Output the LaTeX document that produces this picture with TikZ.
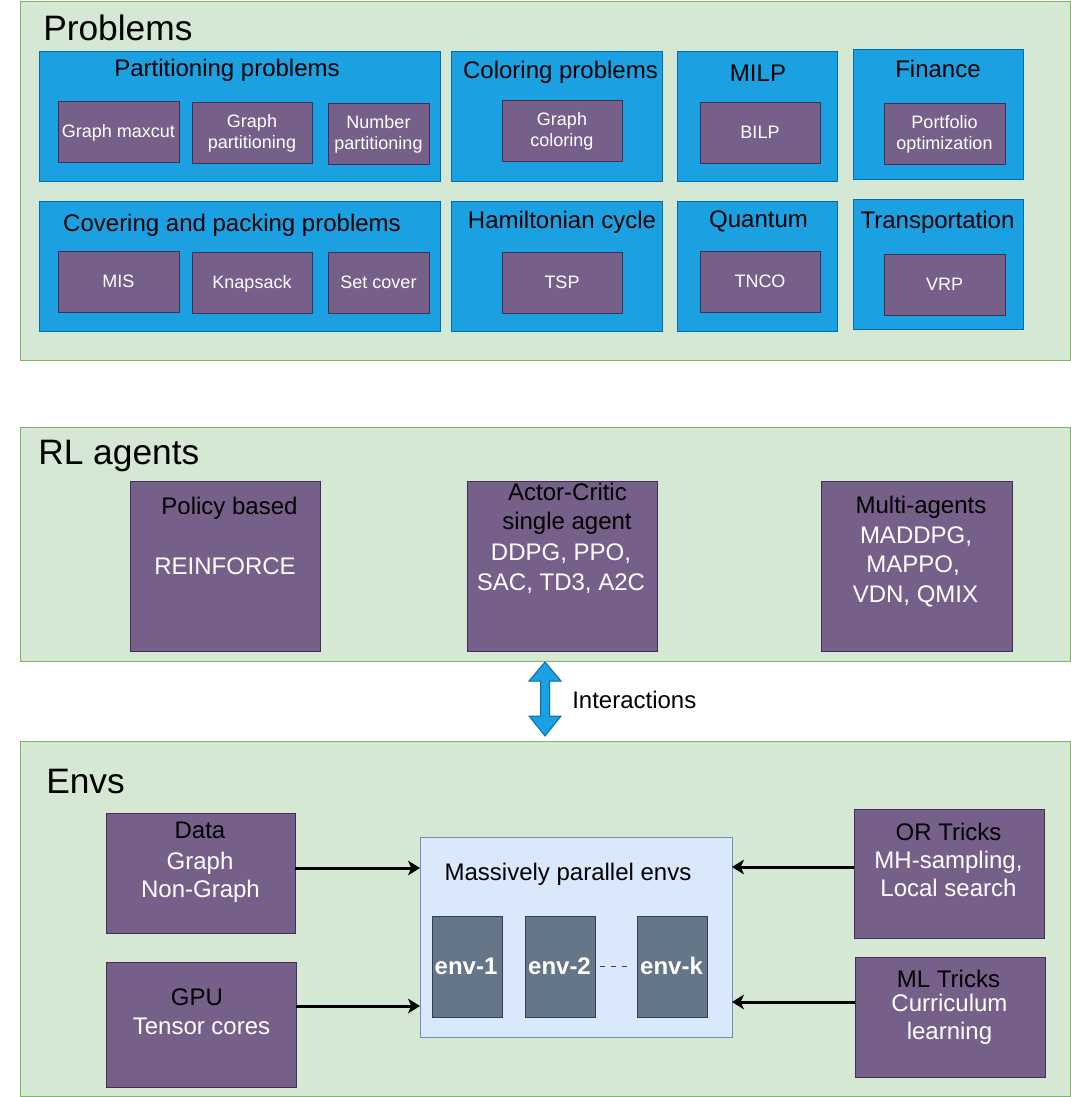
\documentclass[tikz,border=0pt]{standalone}
\usepackage{fontspec}
\setmainfont{Liberation Sans}
\usetikzlibrary{arrows.meta}
\definecolor{contF}{HTML}{D5E8D4}
\definecolor{contD}{HTML}{82B366}
\definecolor{bluF}{HTML}{1BA1E2}
\definecolor{bluD}{HTML}{006EAF}
\definecolor{purF}{HTML}{76608A}
\definecolor{purD}{HTML}{432D57}
\definecolor{slF}{HTML}{647687}
\definecolor{slD}{HTML}{314354}
\definecolor{lbF}{HTML}{DAE8FC}
\definecolor{lbD}{HTML}{6C8EBF}
\begin{document}
\begin{tikzpicture}[x=0.75pt,y=-0.75pt,
  bsz/.style 2 args={minimum width=#1*0.75pt, minimum height=#2*0.75pt, inner sep=0pt, outer sep=0pt, anchor=north west},
  cont/.style={fill=contF, draw=contD, line width=0.75pt},
  blu/.style={fill=bluF, draw=bluD, line width=0.75pt},
  pur/.style={fill=purF, draw=purD, line width=0.75pt},
  slate/.style={fill=slF, draw=slD, line width=0.75pt},
  massbox/.style={fill=lbF, draw=lbD, line width=0.75pt},
  big/.style={font=\fontsize{26.5}{32}\selectfont, inner sep=0pt, anchor=base west},
  mid/.style={font=\fontsize{18}{21.6}\selectfont, inner sep=0pt, anchor=base},
  sml/.style={font=\fontsize{13.5}{16.2}\selectfont, inner sep=0pt, anchor=base, text=white},
  envlbl/.style={font=\fontsize{18}{21.6}\selectfont\bfseries, inner sep=0pt, anchor=base, text=white},
  wt/.style={text=white},
  arr/.style={line width=2.25pt, -{Stealth[length=9pt,width=11pt,inset=2.5pt]}},
  dotcon/.style={draw=slD, line width=1.1pt, dash pattern=on 3.75pt off 4.5pt, shorten <=3.75pt, shorten >=4.5pt}
]
\useasboundingbox (0,0) rectangle (1071,1097);

% ---------- containers ----------
\node[cont, bsz={1050}{359}] (probC) at (20,1) {};
\node[cont, bsz={1050}{234}] (rlC) at (20,427) {};
\node[cont, bsz={1050}{355}] (envC) at (20,741) {};

\node[big] (tProb) at (43,40) {Problems};
\node[big] (tRL) at (38,464) {RL agents};
\node[big] (tEnv) at (46,793) {Envs};

% ---------- problem groups ----------
\node[blu, bsz={401}{130}] (partB) at (39,51) {};
\node[blu, bsz={401}{130}] (covB) at (39,201) {};
\node[blu, bsz={211}{130}] (colB) at (451,51) {};
\node[blu, bsz={160}{130}] (milpB) at (677,51) {};
\node[blu, bsz={170}{130}] (finB) at (853,49) {};
\node[blu, bsz={211}{130}] (hamB) at (451,201) {};
\node[blu, bsz={160}{130}] (quB) at (677,201) {};
\node[blu, bsz={170}{130}] (trB) at (853,199) {};

\node[mid] (tPart) at (227,76) {Partitioning problems};
\node[mid] (tCov) at (232,231) {Covering and packing problems};
\node[mid] (tCol) at (560.5,78) {Coloring problems};
\node[mid] (tMilp) at (758,81) {MILP};
\node[mid] (tFin) at (938,77) {Finance};
\node[mid] (tHam) at (562,228.5) {Hamiltonian cycle};
\node[mid] (tQu) at (758.5,227) {Quantum};
\node[mid] (tTr) at (937.5,228) {Transportation};

% ---------- problem instances ----------
\node[pur, bsz={121}{61}] (gmc) at (58,101) {};
\node[pur, bsz={120}{61}] (gpart) at (192,102) {};
\node[pur, bsz={101}{61}] (npart) at (328,103) {};
\node[pur, bsz={121}{61}] (mis) at (58,251) {};
\node[pur, bsz={120}{61}] (knap) at (192,252) {};
\node[pur, bsz={101}{61}] (setc) at (328,252) {};
\node[pur, bsz={120}{61}] (gcol) at (502,100) {};
\node[pur, bsz={120}{61}] (bilp) at (700,102) {};
\node[pur, bsz={121}{61}] (port) at (884,103) {};
\node[pur, bsz={120}{61}] (tsp) at (502,252) {};
\node[pur, bsz={120}{61}] (tnco) at (700,251) {};
\node[pur, bsz={121}{61}] (vrp) at (884,254) {};

\node[sml] (lgmc) at (118.5,137.5) {Graph maxcut};
\node[sml] (lgpart1) at (252,127) {Graph};
\node[sml] (lgpart2) at (252,148.5) {partitioning};
\node[sml] (lnpart1) at (378.5,128) {Number};
\node[sml] (lnpart2) at (378.5,149.5) {partitioning};
\node[sml] (lmis) at (118.5,287.5) {MIS};
\node[sml] (lknap) at (252,288.5) {Knapsack};
\node[sml] (lsetc) at (378.5,288.5) {Set cover};
\node[sml] (lgcol1) at (562,125) {Graph};
\node[sml] (lgcol2) at (562,146.5) {coloring};
\node[sml] (lbilp) at (760,138.5) {BILP};
\node[sml] (lport1) at (944.5,128) {Portfolio};
\node[sml] (lport2) at (944.5,149.5) {optimization};
\node[sml] (ltsp) at (562,288.5) {TSP};
\node[sml] (ltnco) at (760,287.5) {TNCO};
\node[sml] (lvrp) at (944.5,290.5) {VRP};

% ---------- RL agents ----------
\node[pur, bsz={190}{170}] (pol) at (130,481) {};
\node[pur, bsz={190}{170}] (ac) at (467,481) {};
\node[pur, bsz={191}{170}] (ma) at (821,481) {};

\node[mid] (lpol1) at (229.5,514) {Policy based};
\node[mid, wt] (lpol2) at (225,574) {REINFORCE};
\node[mid] (lac1) at (567.5,500) {Actor-Critic};
\node[mid] (lac2) at (567,529) {single agent};
\node[mid, wt] (lac3) at (561,560) {DDPG, PPO,};
\node[mid, wt] (lac4) at (561,590) {SAC, TD3, A2C};
\node[mid] (lma1) at (921,513) {Multi-agents};
\node[mid, wt] (lma2) at (916,543) {MADDPG,};
\node[mid, wt] (lma3) at (913,572) {MAPPO,};
\node[mid, wt] (lma4) at (915.5,602) {VDN, QMIX};

% ---------- interaction arrow ----------
\draw[fill=bluF, draw=bluD, line width=0.75pt]
  (545,662) -- (561,681) -- (549.5,681) -- (549.5,716) -- (561,716) -- (545,736)
  -- (529,716) -- (540.5,716) -- (540.5,681) -- (529,681) -- cycle;
\node[mid, anchor=base west] (linter) at (572,708) {Interactions};

% ---------- Envs ----------
\node[pur, bsz={189}{120}] (data) at (106,813) {};
\node[pur, bsz={190}{125}] (gpu) at (106,962) {};
\node[massbox, bsz={312}{200}] (mass) at (420,837) {};
\node[slate, bsz={70}{101}] (env1) at (432,916) {};
\node[slate, bsz={70}{101}] (env2) at (525,916) {};
\node[slate, bsz={70}{101}] (envk) at (637,916) {};
\node[pur, bsz={190}{129}] (ortr) at (854,809) {};
\node[pur, bsz={190}{120}] (mltr) at (855,957) {};

\node[mid] (ldata1) at (200,838) {Data};
\node[mid, wt] (ldata2) at (200,869) {Graph};
\node[mid, wt] (ldata3) at (200.5,897) {Non-Graph};
\node[mid] (lgpu1) at (197,1005) {GPU};
\node[mid, wt] (lgpu2) at (201.5,1034) {Tensor cores};
\node[mid] (lmass) at (568,880) {Massively parallel envs};
\node[envlbl] (lenv1) at (466,974) {env-1};
\node[envlbl] (lenv2) at (559.5,974) {env-2};
\node[envlbl] (lenvk) at (671.5,974) {env-k};
\node[mid] (lor1) at (948.5,840.5) {OR Tricks};
\node[mid, wt] (lor2) at (948.5,868.5) {MH-sampling,};
\node[mid, wt] (lor3) at (948.5,896.5) {Local search};
\node[mid] (lml1) at (948.5,987.5) {ML Tricks};
\node[mid, wt] (lml2) at (949.5,1011) {Curriculum};
\node[mid, wt] (lml3) at (949.5,1039) {learning};

% ---------- connectors ----------
\draw[dotcon] (env2.east) -- (envk.west);
\draw[arr] ([yshift=3.75pt]data.east) coordinate (d1) -- (d1 -| mass.west);
\draw[arr] ([yshift=13.875pt]gpu.east) coordinate (g1) -- (g1 -| mass.west);
\draw[arr] ([yshift=4.875pt]ortr.west) coordinate (o1) -- (o1 -| mass.east);
\draw[arr] ([yshift=11.25pt]mltr.west) coordinate (m1) -- (m1 -| mass.east);
\end{tikzpicture}
\end{document}
